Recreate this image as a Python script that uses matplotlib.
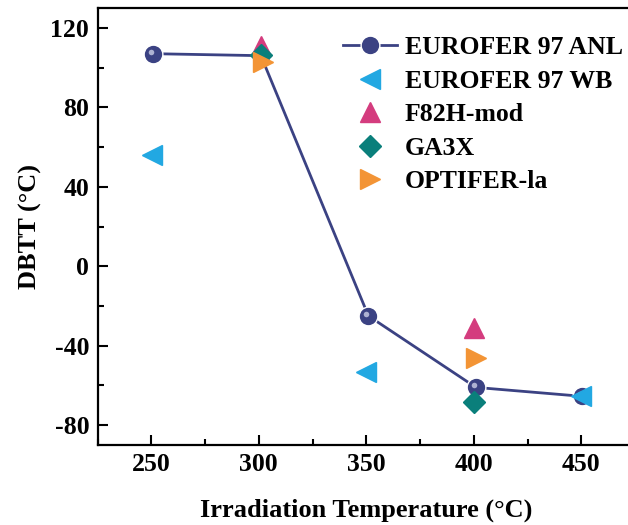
import matplotlib
matplotlib.use('Agg')
import matplotlib.pyplot as plt
from matplotlib.ticker import MultipleLocator
from matplotlib.transforms import offset_copy

NAVY   = '#3b4283'
BLUE   = '#22a8e2'
PINK   = '#d43c7e'
TEAL   = '#0a7f7b'
ORANGE = '#f39435'

# data
anl_t = [251, 301, 351, 401, 450.5]
anl_v = [107, 106, -25, -61, -65.5]
wb_t = [250.5, 350, 450]
wb_v = [56, -53, -65.5]
f82h_t = [301, 400]
f82h_v = [111, -31]
ga3x_t = [301, 400]
ga3x_v = [106.5, -68.5]
opt_t = [302, 401]
opt_v = [103, -46]

plt.rcParams['font.family'] = ['Liberation Serif', 'DejaVu Serif']
plt.rcParams['font.weight'] = 'bold'
plt.rcParams['axes.unicode_minus'] = False

fig = plt.figure(figsize=(6.28, 5.25), dpi=100)
ax = fig.add_axes((97.5 / 628, 80 / 525, 537.5 / 628, 437 / 525))

ax.plot(anl_t, anl_v, '-o', color=NAVY, lw=2, ms=13.5, mfc=NAVY,
        mec='white', mew=1.0, label='EUROFER 97 ANL', zorder=3)
# little highlight so the balls look a bit like spheres
hl = offset_copy(ax.transData, fig=fig, x=-2, y=2, units='dots')
ax.plot(anl_t, anl_v, 'o', color='#aeb2d2', ms=4, mew=0, transform=hl, zorder=3.1)

ax.plot(wb_t, wb_v, '<', color=BLUE, ms=14, ls='none', label='EUROFER 97 WB', zorder=4)
ax.plot(f82h_t, f82h_v, '^', color=PINK, ms=14, ls='none', label='F82H-mod', zorder=5)
ax.plot(ga3x_t, ga3x_v, 'D', color=TEAL, ms=11, ls='none', label='GA3X', zorder=6)
ax.plot(opt_t, opt_v, '>', color=ORANGE, ms=14, ls='none', label='OPTIFER-la', zorder=7)

ax.set_xlim(225, 475)
ax.set_ylim(-90, 130)
ax.xaxis.set_major_locator(MultipleLocator(50))
ax.xaxis.set_minor_locator(MultipleLocator(25))
ax.yaxis.set_major_locator(MultipleLocator(40))
ax.yaxis.set_minor_locator(MultipleLocator(20))
ax.tick_params(which='both', direction='in', width=1.5, labelsize=18.5, pad=6)
ax.tick_params(which='major', length=7)
ax.tick_params(which='minor', length=4)
for s in ax.spines.values():
    s.set_linewidth(1.6)

ax.set_xlabel('Irradiation Temperature (\u00b0C)', fontsize=19, fontweight='bold', labelpad=16)
ax.set_ylabel('DBTT (\u00b0C)', fontsize=19, fontweight='bold', labelpad=6)

ax.legend(loc='upper left', bbox_to_anchor=(343 / 628, 1 - 36 / 525),
          bbox_transform=fig.transFigure, frameon=False, fontsize=18.5,
          handlelength=2.1, handletextpad=0.3, labelspacing=0.41,
          borderpad=0, borderaxespad=0)

fig.savefig('out.png', dpi=100)
